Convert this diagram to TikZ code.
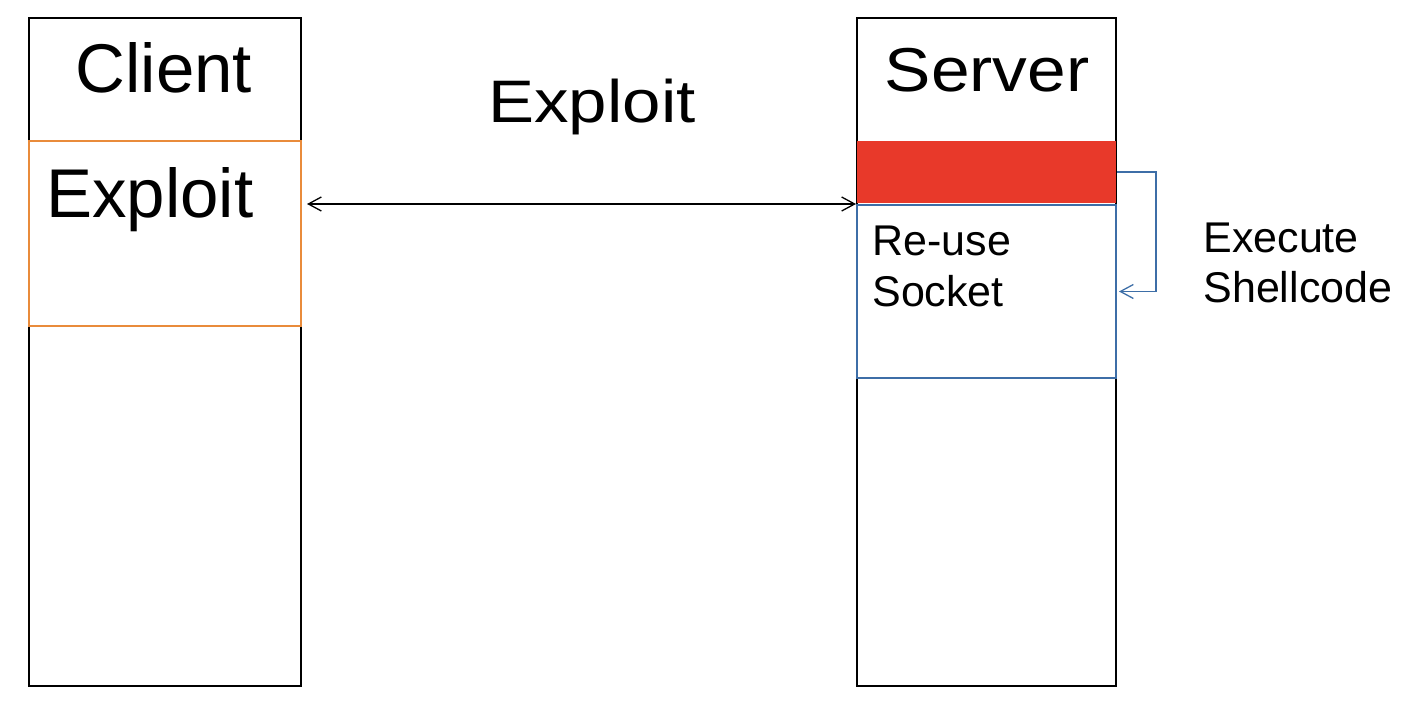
\documentclass[tikz,border=0pt]{standalone}
\usepackage{fontspec}
\setmainfont{Liberation Sans}
\usetikzlibrary{arrows.meta}
\definecolor{exorange}{HTML}{E98B3B}
\definecolor{exred}{HTML}{E8392A}
\definecolor{exblue}{HTML}{3D6EA7}
\begin{document}
\begin{tikzpicture}[x=0.5pt,y=-0.5pt,
    column/.style={draw=black,line width=1pt,inner sep=0pt,anchor=north west,
      minimum width=#1,minimum height=334pt},
    part/.style={inner sep=0pt,anchor=north west,line width=1pt},
    big/.style={font=\fontsize{34}{40}\selectfont,inner sep=0pt},
    small/.style={font=\fontsize{21.5}{25}\selectfont,inner sep=0pt,anchor=base west},
    barb/.style={line width=0.65pt,arrows={#1},
      >={Straight Barb[length=6.5pt,width=7pt]}}]
  \useasboundingbox (0,0) rectangle (1420,716);

  \node[column=136pt] (client) at (28,17) {};
  \node[column=129.5pt] (server) at (856,17) {};
  \node[part,draw=exorange,minimum width=136pt,minimum height=92.5pt] (exploitbox) at (28,140) {};
  \node[part,fill=exred,minimum width=129.5pt,minimum height=31pt] (redbar) at (856,140) {};
  \node[part,draw=exblue,minimum width=129.5pt,minimum height=86.5pt] (socketbox) at (856,204) {};

  \node[big,font=\fontsize{34.5}{40}\selectfont,anchor=base] (clientlbl) at (164,93) {Client};
  \node[big,font=\fontsize{31}{36}\selectfont,xscale=1.12,anchor=base] (serverlbl) at (987,92) {Server};
  \node[big,font=\fontsize{34.5}{40}\selectfont,anchor=base west] (exploitlbl) at (46,218) {Exploit};
  \node[big,font=\fontsize{30}{36}\selectfont,xscale=1.15,anchor=base] (exploittop) at (592,123) {Exploit};

  \node[small] (reuse) at (872,256) {Re-use};
  \node[small] (socket) at (872,307) {Socket};
  \node[small] (execute) at (1203,253) {Execute};
  \node[small] (shellcode) at (1203,303) {Shellcode};

  \draw [barb=<->,shorten <=2.5pt] (exploitbox.east |- socketbox.north) -- (socketbox.north west);
  \draw [barb=->,draw=exblue,shorten >=1pt] (redbar.east) -- ++(39,0) |- (socketbox.east);

\end{tikzpicture}
\end{document}
